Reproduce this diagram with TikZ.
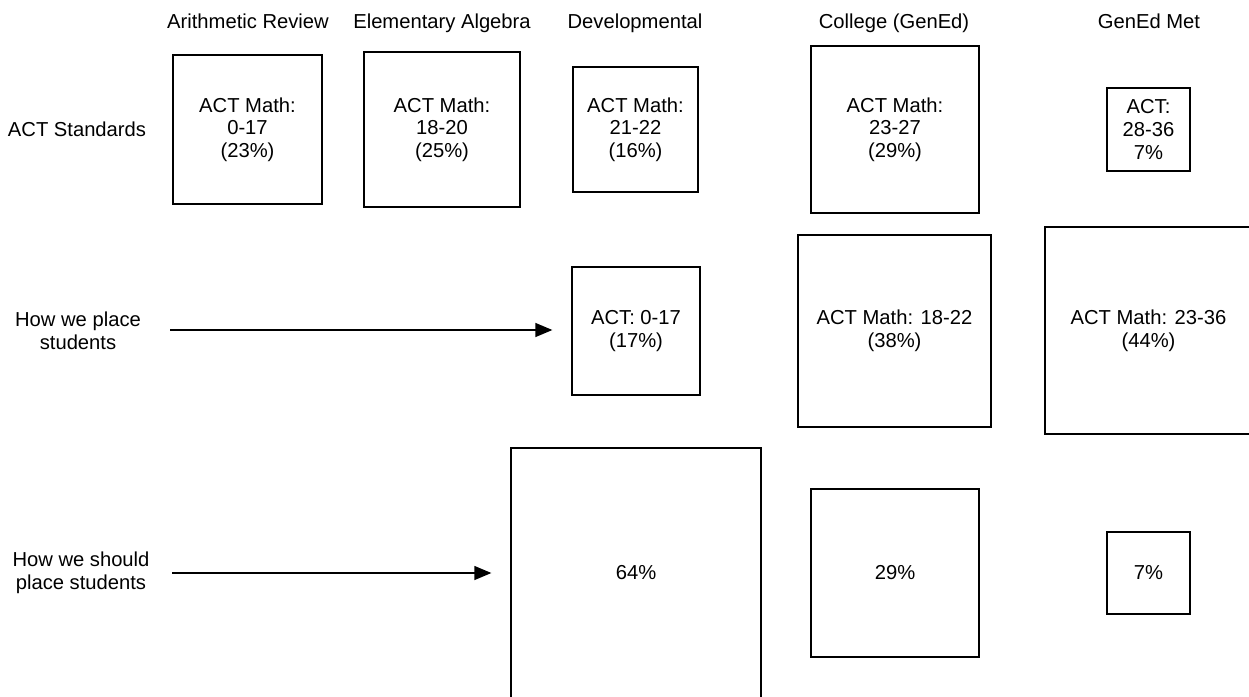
\documentclass[tikz,border=0pt]{standalone}
\usepackage{fontspec}
\setmainfont{Liberation Sans}
\usetikzlibrary{arrows.meta}
\begin{document}
\begin{tikzpicture}[x=1pt,y=-1pt,
  txt/.style={font=\fontsize{20.2}{22.7}\selectfont},
  box/.style={txt, draw=black, line width=1.3pt, inner sep=0pt, align=center},
  lbl/.style={txt, align=center, inner sep=0pt},
  hdr/.style={txt, anchor=base, inner sep=0pt},
  conn/.style={line width=1.3pt, -{Triangle[length=17pt,width=14pt]}}]
\useasboundingbox (0,0) rectangle (1249,696);
\clip (0,0) rectangle (1249,696);
\fill[white] (0,0) rectangle (1249,696);

% headers
\node[hdr] (h1) at (248,28) {Arithmetic Review};
\node[hdr] (h2) at (442,28) {Elementary Algebra};
\node[hdr] (h3) at (635,28) {Developmental};
\node[hdr] (h4) at (894,28) {College (GenEd)};
\node[hdr] (h5) at (1149,28) {GenEd Met};

% row labels
\node[lbl] (r1) at (77,129.5) {ACT Standards};
\node[lbl] (r2) at (78,331) {How we place\\students};
\node[lbl] (r3) at (81,573) {How we should\\place students};

% row 1
\node[box, minimum width=149pt, minimum height=149pt] (a1) at (247.5,129.5) {ACT Math:\\0-17\\(23\%)};
\node[box, minimum width=156pt, minimum height=155pt] (a2) at (442,129.5) {ACT Math:\\18-20\\(25\%)};
\node[box, minimum width=125pt, minimum height=125pt] (a3) at (635.5,129.5) {ACT Math:\\21-22\\(16\%)};
\node[box, minimum width=168pt, minimum height=167pt] (a4) at (895,129.5) {ACT Math:\\23-27\\(29\%)};
\node[box, minimum width=83pt, minimum height=83pt] (a5) at (1148.5,129.5) {ACT:\\28-36\\7\%};

% row 2
\node[box, minimum width=128pt, minimum height=128pt] (b3) at (636,331) {ACT: 0-17\\(17\%)};
\node[box, minimum width=193pt, minimum height=192pt] (b4) at (894.5,331) {ACT Math: 18-22\\(38\%)};
\node[box, minimum width=207pt, minimum height=207pt] (b5) at (1148.5,330.5) {ACT Math: 23-36\\(44\%)};

% row 3
\node[box, minimum width=250pt, minimum height=250pt] (c3) at (636,573) {64\%};
\node[box, minimum width=168pt, minimum height=168pt] (c4) at (895,573) {29\%};
\node[box, minimum width=83pt, minimum height=82pt] (c5) at (1148.5,573) {7\%};

% connectors
\coordinate (s2) at (170,330);
\coordinate (s3) at (172,573);
\draw[conn, shorten >=19pt] (s2) -- (b3.west |- s2);
\draw[conn, shorten >=19pt] (s3) -- (c3.west |- s3);
\end{tikzpicture}
\end{document}
